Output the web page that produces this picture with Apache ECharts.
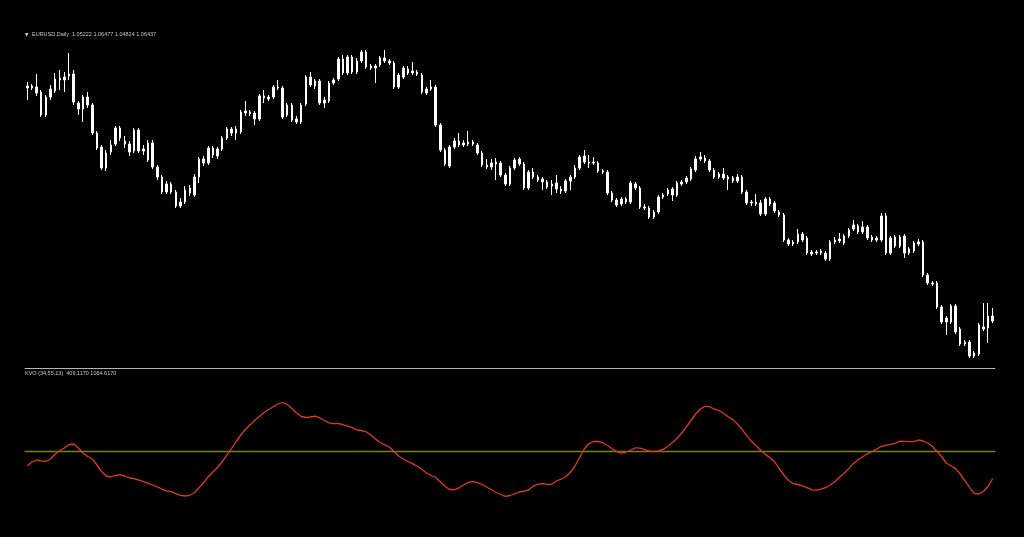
<!DOCTYPE html>
<html>
<head>
<meta charset="utf-8">
<script src="https://cdn.jsdelivr.net/npm/echarts@6/dist/echarts.min.js"></script>
<style>
html,body{margin:0;padding:0;background:#000;}
#chart{width:1024px;height:537px;}
</style>
</head>
<body>
<div id="chart"></div>
<script>
// EURUSD Daily candles
const opens = [1.157,1.156,1.1565,1.154,1.1425,1.1515,1.1545,1.160,1.160,1.162,
1.163,1.1485,1.1455,1.1515,1.1475,1.1335,1.1265,1.116,1.124,1.128,
1.136,1.1295,1.128,1.1245,1.135,1.1245,1.1285,1.1285,1.1165,1.1115,
1.104,1.108,1.104,1.097,1.099,1.1035,1.1025,1.1115,1.1205,1.1185,
1.126,1.122,1.1255,1.131,1.1355,1.1335,1.134,1.1445,1.144,1.1435,
1.1405,1.152,1.1505,1.1515,1.156,1.156,1.1425,1.1475,1.1405,1.139,
1.148,1.1615,1.157,1.1595,1.1485,1.1495,1.1585,1.1605,1.1705,1.1635,
1.1715,1.164,1.1695,1.174,1.167,1.166,1.1675,1.171,1.1695,1.1685,
1.1565,1.1615,1.1655,1.1635,1.164,1.1625,1.1555,1.1555,1.1565,1.1375,
1.125,1.117,1.1265,1.1275,1.1285,1.128,1.129,1.1275,1.1235,1.1175,
1.1165,1.119,1.1185,1.1125,1.108,1.116,1.118,1.118,1.106,1.114,
1.1115,1.1105,1.109,1.107,1.1085,1.1055,1.1045,1.1095,1.1115,1.116,
1.119,1.119,1.1185,1.1185,1.1145,1.114,1.1035,1.100,1.098,1.099,
1.099,1.108,1.106,1.0965,1.096,1.0915,1.094,1.1015,1.103,1.1055,
1.1025,1.108,1.109,1.1105,1.115,1.1205,1.121,1.1195,1.115,1.1115,
1.113,1.1115,1.111,1.1095,1.1115,1.104,1.099,1.098,1.0985,1.093,
1.1005,1.0985,1.094,1.0925,1.080,1.078,1.079,1.083,1.081,1.074,
1.0735,1.0745,1.0735,1.0705,1.079,1.0795,1.0785,1.082,1.0855,1.087,
1.084,1.0865,1.0815,1.080,1.080,1.092,1.0735,1.077,1.0815,1.082,
1.0735,1.0745,1.078,1.079,1.0625,1.0585,1.0585,1.0465,1.039,1.039,
1.047,1.0355,1.029,1.029,1.022,1.023,1.0365,1.036,1.0395];
const highs = [1.159,1.158,1.163,1.155,1.1525,1.1575,1.1635,1.165,1.164,1.1735,
1.165,1.1495,1.1525,1.154,1.1485,1.1345,1.1275,1.125,1.130,1.137,
1.137,1.132,1.1295,1.136,1.136,1.1275,1.130,1.130,1.1175,1.1125,
1.1095,1.109,1.105,1.101,1.107,1.1075,1.113,1.1215,1.122,1.127,
1.127,1.1265,1.132,1.1365,1.1365,1.137,1.145,1.1495,1.145,1.1445,
1.153,1.155,1.1525,1.1575,1.160,1.157,1.1485,1.1485,1.142,1.1485,
1.1625,1.164,1.1605,1.1605,1.1515,1.1595,1.161,1.1715,1.1725,1.1725,
1.1725,1.171,1.175,1.175,1.168,1.168,1.172,1.175,1.1705,1.1695,
1.1635,1.167,1.167,1.169,1.165,1.1635,1.1565,1.160,1.1575,1.1385,
1.126,1.1275,1.131,1.1335,1.130,1.1345,1.130,1.1285,1.1245,1.1205,
1.1205,1.121,1.1195,1.1135,1.117,1.121,1.1215,1.119,1.115,1.116,
1.1125,1.1115,1.110,1.110,1.1125,1.107,1.1105,1.1125,1.1175,1.1225,
1.125,1.1225,1.1215,1.1195,1.1155,1.115,1.1045,1.101,1.1015,1.1015,
1.1095,1.109,1.107,1.098,1.097,1.095,1.1025,1.1035,1.106,1.1065,
1.1095,1.110,1.112,1.1165,1.122,1.124,1.1225,1.1205,1.116,1.114,
1.116,1.1125,1.112,1.113,1.1125,1.105,1.100,1.103,1.100,1.1015,
1.1015,1.0995,1.095,1.0935,1.081,1.080,1.0855,1.084,1.082,1.075,
1.075,1.0755,1.0745,1.080,1.0815,1.0835,1.083,1.086,1.090,1.088,
1.0895,1.0875,1.0825,1.082,1.0935,1.0935,1.082,1.0825,1.0825,1.083,
1.0765,1.0795,1.0805,1.080,1.0635,1.0595,1.0595,1.0475,1.042,1.048,
1.048,1.0365,1.030,1.030,1.0245,1.0385,1.0485,1.0485,1.046];
const lows = [1.150,1.155,1.152,1.1415,1.1415,1.150,1.1535,1.155,1.154,1.160,
1.1475,1.1425,1.139,1.146,1.1325,1.125,1.115,1.1145,1.1225,1.127,
1.1295,1.126,1.122,1.1235,1.1235,1.1225,1.119,1.1155,1.110,1.103,
1.103,1.103,1.096,1.096,1.098,1.102,1.1015,1.1085,1.117,1.1175,
1.121,1.1205,1.1245,1.130,1.132,1.130,1.133,1.142,1.142,1.1375,
1.1395,1.1485,1.1495,1.1505,1.155,1.1405,1.1415,1.139,1.138,1.138,
1.147,1.1565,1.1555,1.1475,1.146,1.1485,1.1575,1.1595,1.1625,1.1625,
1.163,1.163,1.1685,1.1655,1.165,1.1585,1.1665,1.1685,1.1675,1.1555,
1.1555,1.1605,1.1625,1.1625,1.162,1.153,1.1525,1.1545,1.1365,1.124,
1.117,1.116,1.1255,1.1265,1.1265,1.127,1.127,1.1225,1.1165,1.1155,
1.115,1.110,1.1115,1.107,1.107,1.115,1.117,1.105,1.105,1.1105,
1.109,1.105,1.1055,1.1025,1.1035,1.103,1.1035,1.105,1.1105,1.115,
1.118,1.116,1.1175,1.1135,1.113,1.1025,1.099,1.0965,1.097,1.098,
1.098,1.105,1.0955,1.095,1.0905,1.0905,1.093,1.1005,1.102,1.0995,
1.1015,1.107,1.108,1.1095,1.114,1.1195,1.1185,1.114,1.1105,1.1105,
1.110,1.105,1.1085,1.1085,1.103,1.0975,1.097,1.097,1.092,1.092,
1.097,1.0935,1.0915,1.079,1.077,1.077,1.078,1.079,1.0725,1.072,
1.0725,1.0725,1.0695,1.0695,1.078,1.0785,1.0775,1.081,1.0845,1.083,
1.083,1.080,1.079,1.079,1.079,1.0725,1.0725,1.076,1.076,1.071,
1.0725,1.0735,1.077,1.0615,1.0575,1.057,1.0455,1.038,1.0325,1.038,
1.033,1.027,1.027,1.021,1.021,1.022,1.0345,1.0285,1.0385];
const closes = [1.156,1.157,1.1535,1.1425,1.1515,1.1555,1.1605,1.161,1.1615,1.163,
1.149,1.1455,1.1515,1.1475,1.1335,1.126,1.116,1.1235,1.1275,1.136,
1.131,1.128,1.124,1.135,1.1245,1.1255,1.120,1.1165,1.1115,1.104,
1.108,1.104,1.097,1.099,1.105,1.106,1.1115,1.1205,1.1185,1.126,
1.1225,1.1255,1.131,1.1355,1.1335,1.1355,1.144,1.1435,1.143,1.1405,
1.152,1.151,1.1515,1.1565,1.1565,1.1415,1.1475,1.140,1.139,1.1475,
1.1615,1.1575,1.1595,1.1485,1.150,1.1585,1.160,1.1705,1.1635,1.1715,
1.164,1.1695,1.174,1.1665,1.166,1.167,1.171,1.1695,1.1685,1.1565,
1.1625,1.166,1.1635,1.1645,1.163,1.154,1.1535,1.1565,1.1375,1.125,
1.118,1.1265,1.1295,1.1295,1.1275,1.129,1.128,1.1235,1.1175,1.1165,
1.1185,1.118,1.1125,1.108,1.116,1.120,1.1205,1.106,1.114,1.1115,
1.110,1.109,1.1065,1.108,1.1055,1.1045,1.1095,1.1115,1.116,1.1215,
1.122,1.1185,1.119,1.1145,1.114,1.1035,1.100,1.0975,1.1005,1.1005,
1.1085,1.106,1.0965,1.096,1.0915,1.094,1.1015,1.1025,1.105,1.1025,
1.1085,1.109,1.111,1.1155,1.1205,1.1215,1.1195,1.115,1.1115,1.113,
1.111,1.1105,1.1095,1.1115,1.104,1.0985,1.0985,1.099,1.093,1.1005,
1.098,1.0945,1.0925,1.080,1.078,1.079,1.083,1.080,1.0735,1.073,
1.074,1.0735,1.0705,1.079,1.080,1.0805,1.082,1.085,1.0875,1.084,
1.0865,1.081,1.080,1.081,1.092,1.0735,1.081,1.0815,1.077,1.0735,
1.0755,1.0785,1.079,1.0625,1.0585,1.058,1.0465,1.039,1.041,1.047,
1.034,1.028,1.028,1.022,1.0235,1.0375,1.0355,1.042,1.042];
// KVO (34,55,13) main line values
const kvo = [-750,-550,-450,-490,-525,-400,-150,25,150,325,
350,150,-100,-275,-400,-700,-1025,-1250,-1300,-1225,
-1190,-1250,-1350,-1385,-1450,-1535,-1610,-1700,-1790,-1915,
-1990,-2030,-2130,-2215,-2250,-2215,-2090,-1835,-1575,-1285,
-1050,-825,-525,-210,125,475,800,1075,1315,1525,
1720,1925,2075,2215,2350,2425,2325,2130,1900,1735,
1675,1700,1740,1660,1525,1410,1365,1375,1315,1240,
1165,1050,1025,960,800,600,425,305,200,-25,
-250,-400,-525,-630,-765,-915,-1100,-1225,-1325,-1550,
-1760,-1925,-1940,-1840,-1700,-1575,-1535,-1585,-1675,-1815,
-1940,-2075,-2175,-2265,-2225,-2140,-2050,-2015,-1950,-1760,
-1660,-1630,-1665,-1665,-1500,-1410,-1285,-1075,-750,-325,
100,360,475,475,415,275,115,-30,-110,-50,
35,160,145,75,-5,-30,5,80,225,425,
635,900,1210,1525,1850,2100,2235,2225,2090,2030,
1890,1715,1570,1350,1085,765,490,260,35,-165,
-330,-540,-875,-1200,-1475,-1630,-1675,-1740,-1835,-1945,
-1960,-1905,-1835,-1700,-1535,-1315,-1110,-880,-620,-440,
-285,-140,-35,100,230,285,330,385,490,480,
465,465,550,500,400,240,-25,-275,-600,-735,
-880,-1150,-1475,-1815,-2120,-2150,-2025,-1775,-1375];
const headerText = 'EURUSD,Daily  1.05222 1.06477 1.04824 1.06437';
const kvoText = 'KVO (34,55,13)  409.1170 1064.6170';

const categories = opens.map((_, i) => String(i + 1));
const candleData = opens.map((o, i) => [o, closes[i], lows[i], highs[i]]);

const chart = echarts.init(document.getElementById('chart'));
chart.setOption({
  backgroundColor: '#000000',
  animation: false,
  graphic: [
    {type: 'text', left: 25, top: 32, style: {text: '▼', fill: '#d0d0d0', font: '4.5px "DejaVu Sans"'}},
    {type: 'text', left: 32, top: 31, style: {text: headerText, fill: '#c8c8c8', font: '5.5px "Liberation Sans"'}},
    {type: 'text', left: 25, top: 370.5, style: {text: kvoText, fill: '#c8c8c8', font: '5.5px "Liberation Sans"'}}
  ],
  grid: [
    {left: 25, right: 29, top: 40, height: 328},
    {left: 25, right: 29, top: 381, height: 140}
  ],
  xAxis: [
    {type: 'category', gridIndex: 0, data: categories, boundaryGap: true,
     axisLine: {show: true, lineStyle: {color: '#b4b4b4', width: 1}},
     axisTick: {show: false}, axisLabel: {show: false}, splitLine: {show: false}},
    {type: 'category', gridIndex: 1, data: categories, boundaryGap: true,
     axisLine: {show: true, onZero: true, lineStyle: {color: '#808000', width: 1.3}},
     axisTick: {show: false}, axisLabel: {show: false}, splitLine: {show: false}}
  ],
  yAxis: [
    {type: 'value', gridIndex: 0, min: 1.016, max: 1.18, show: false, splitLine: {show: false}},
    {type: 'value', gridIndex: 1, min: -3500, max: 3500, show: false, splitLine: {show: false}}
  ],
  series: [
    {
      type: 'candlestick', xAxisIndex: 0, yAxisIndex: 0, data: candleData,
      barWidth: 2,
      itemStyle: {color: '#ffffff', color0: '#ffffff', borderColor: '#ffffff', borderColor0: '#ffffff', borderWidth: 1}
    },
    {
      type: 'line', xAxisIndex: 1, yAxisIndex: 1, data: kvo, showSymbol: false, symbol: 'none',
      lineStyle: {color: '#e03a1e', width: 1.3},
      z: 3
    }
  ]
});
</script>
</body>
</html>
